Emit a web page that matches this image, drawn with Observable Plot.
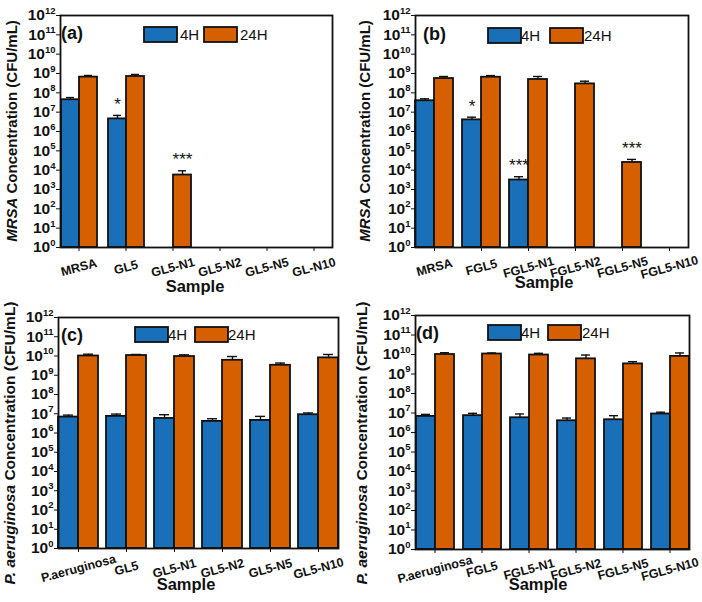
<!DOCTYPE html>
<html><head><meta charset="utf-8">
<script src="https://cdn.jsdelivr.net/npm/d3@7"></script>
<script src="https://cdn.jsdelivr.net/npm/@observablehq/plot@0.6"></script>
<style>
body{margin:0;background:#fff;}
#wrap{position:relative;width:702px;height:602px;background:#fff;}
.panel{position:absolute;}
</style></head><body><div id="wrap"></div>
<script>
// ---------- data ----------
const series = ["4H", "24H"];

const catsA = ["MRSA", "GL5", "GL5-N1", "GL5-N2", "GL5-N5", "GL-N10"];
const a4H = [4.4e7, 4.5e6, null, null, null, null];
const a4HUp = [5.7e7, 6.8e6, null, null, null, null];
const a24H = [6.5e8, 7.0e8, 5.6e3, null, null, null];
const a24HUp = [7.9e8, 8.9e8, 9.3e3, null, null, null];
const aStars4H = ["", "*", "", "", "", ""];
const aStars24H = ["", "", "***", "", "", ""];

const catsB = ["MRSA", "FGL5", "FGL5-N1", "FGL5-N2", "FGL5-N5", "FGL5-N10"];
const b4H = [3.9e7, 4.0e6, 3.1e3, null, null, null];
const b4HUp = [4.9e7, 5.5e6, 4.6e3, null, null, null];
const b24H = [5.5e8, 6.4e8, 4.9e8, 2.9e8, 2.5e4, null];
const b24HUp = [7.0e8, 7.8e8, 7.0e8, 4.0e8, 3.6e4, null];
const bStars4H = ["", "*", "***", "", "", ""];
const bStars24H = ["", "", "", "", "***", ""];

const catsC = ["P.aeruginosa", "GL5", "GL5-N1", "GL5-N2", "GL5-N5", "GL5-N10"];
const c4H = [6.7e6, 7.3e6, 5.7e6, 4.0e6, 4.5e6, 8.9e6];
const c4HUp = [8.5e6, 9.6e6, 8.9e6, 5.5e6, 7.3e6, 1.1e7];
const c24H = [1.0e10, 1.06e10, 9.4e9, 6.0e9, 3.3e9, 8.0e9];
const c24HUp = [1.24e10, 1.2e10, 1.15e10, 9.4e9, 4.3e9, 1.2e10];

const catsD = ["P.aeruginosa", "FGL5", "FGL5-N1", "FGL5-N2", "FGL5-N5", "FGL5-N10"];
const d4H = [6.7e6, 7.3e6, 5.7e6, 4.0e6, 4.5e6, 8.9e6];
const d4HUp = [8.5e6, 9.6e6, 8.9e6, 5.5e6, 7.3e6, 1.1e7];
const d24H = [1.0e10, 1.06e10, 9.4e9, 6.0e9, 3.3e9, 8.0e9];
const d24HUp = [1.24e10, 1.2e10, 1.15e10, 9.4e9, 4.3e9, 1.2e10];
const noStars = ["", "", "", "", "", ""];

const yTicks = d3.range(0, 13).map(i => Math.pow(10, i));

// ---------- style ----------
const FONT = "'Liberation Sans', Arial, sans-serif";
const blue = "#1a6fb9", orange = "#d65f00", ink = "#111";

function drawPanel(p) {
  const rows = [];
  p.cats.forEach((c, i) => {
    series.forEach((s, j) => {
      const v = p.vals[j][i];
      if (v == null) return;
      rows.push({cat: c, s, v, e: p.errs[j][i], star: p.stars[j][i]});
    });
  });
  const svg = Plot.plot({
    width: p.w, height: p.h,
    marginTop: p.m[0], marginRight: p.m[1], marginBottom: p.m[2], marginLeft: p.m[3],
    style: {fontFamily: FONT, background: "white", overflow: "visible", color: ink},
    fx: {domain: p.cats, paddingInner: p.pi, paddingOuter: p.po, label: null},
    x: {domain: series, padding: 0, axis: null},
    y: {type: "log", domain: [1, 1e12]},
    color: {domain: series, range: [blue, orange]},
    marks: [
      Plot.ruleX(rows, {fx: "cat", x: "s", y1: "v", y2: "e", stroke: ink, strokeWidth: 1.4}),
      Plot.tickY(rows, {fx: "cat", x: "s", y: "e", stroke: ink, strokeWidth: 1.4, insetLeft: 5, insetRight: 5}),
      Plot.barY(rows, {fx: "cat", x: "s", y1: 1, y2: "v", fill: "s", stroke: ink, strokeWidth: 1.8}),
      Plot.text(rows.filter(d => d.star), {fx: "cat", x: "s", y: "e", text: "star", dy: -11, fontSize: 17, fill: ink}),
      Plot.frame({facet: "super", stroke: ink, strokeWidth: 1.8}),
      Plot.axisY({ticks: yTicks, tickFormat: d => "10^" + Math.round(Math.log10(d)), tickSize: 4, tickPadding: 1, fontSize: 15.5, label: null}),
      Plot.axisFx({anchor: "bottom", tickSize: 4, tickRotate: -15, textAnchor: "middle", lineAnchor: "middle", tickPadding: 16, fontSize: 12.5, label: null})
    ]
  });
  const s = d3.select(svg);
  s.selectAll('g[aria-label="y-axis tick label"]').attr("font-weight", "bold");
  s.selectAll('g[aria-label="y-axis tick label"] text').each(function () {
    const parts = this.textContent.split("^");
    this.textContent = parts[0];
    d3.select(this).append("tspan").attr("dy", -6.5).attr("font-size", 9.5).text(parts[1]);
  });
  s.selectAll('g[aria-label="fx-axis tick label"]').attr("font-weight", "bold");

  // y-axis title with italic organism name
  const yt = s.append("text")
    .attr("transform", `translate(${p.yl[0]},${p.yl[1]}) rotate(-90)`)
    .attr("text-anchor", "middle").attr("font-weight", "bold")
    .attr("font-size", p.ylSize).attr("font-family", FONT).attr("fill", ink);
  yt.append("tspan").attr("font-style", "italic").text(p.organism);
  yt.append("tspan").text(" Concentration (CFU/mL)");

  // x-axis title
  s.append("text").attr("x", p.xl[0]).attr("y", p.xl[1])
    .attr("text-anchor", "middle").attr("font-weight", "bold").attr("font-size", 16.5)
    .attr("font-family", FONT).attr("fill", ink).text("Sample");

  // panel letter
  s.append("text").attr("x", p.tag[0]).attr("y", p.tag[1]).attr("text-anchor", "start")
    .attr("font-weight", "bold").attr("font-size", 18)
    .attr("font-family", FONT).attr("fill", ink).text(p.letter);

  // legend
  const lg = s.append("g").attr("font-family", FONT).attr("font-size", 15).attr("text-anchor", "start");
  const leg = [[series[0], blue, p.lg[0], p.lg[2]], [series[1], orange, p.lg[1], p.lg[3]]];
  leg.forEach(([name, col, bx, tx]) => {
    lg.append("rect").attr("x", bx).attr("y", p.lgY).attr("width", 33).attr("height", 15)
      .attr("fill", col).attr("stroke", ink).attr("stroke-width", 1.8);
    lg.append("text").attr("x", tx).attr("y", p.lgY + 13).attr("fill", ink).text(name);
  });

  const div = document.createElement("div");
  div.className = "panel";
  div.style.left = p.left + "px";
  div.style.top = p.top + "px";
  div.appendChild(svg);
  document.getElementById("wrap").appendChild(div);
}

drawPanel({
  left: 0, top: 0, w: 351, h: 300, m: [15, 16, 53, 56], pi: 0.22, po: 0.02,
  cats: catsA, vals: [a4H, a24H], errs: [a4HUp, a24HUp], stars: [aStars4H, aStars24H],
  organism: "MRSA", yl: [17, 131], ylSize: 15, xl: [195, 292], tag: [61, 39], letter: "(a)",
  lg: [144, 204, 180, 240], lgY: 27
});
drawPanel({
  left: 351, top: 0, w: 351, h: 300, m: [15, 8, 53, 57], pi: 0.2, po: 0.1,
  cats: catsB, vals: [b4H, b24H], errs: [b4HUp, b24HUp], stars: [bStars4H, bStars24H],
  organism: "MRSA", yl: [19, 131], ylSize: 15, xl: [193, 288], tag: [72, 40], letter: "(b)",
  lg: [137, 199, 170, 233], lgY: 28
});
drawPanel({
  left: 0, top: 300, w: 351, h: 302, m: [17, 11, 54, 55], pi: 0.17, po: 0.05,
  cats: catsC, vals: [c4H, c24H], errs: [c4HUp, c24HUp], stars: [noStars, noStars],
  organism: "P. aeruginosa", yl: [15, 143], ylSize: 15.5, xl: [186, 290], tag: [61, 41], letter: "(c)",
  lg: [135, 195, 168, 228], lgY: 27
});
drawPanel({
  left: 351, top: 300, w: 351, h: 302, m: [15, 8, 53, 59], pi: 0.17, po: 0.06,
  cats: catsD, vals: [d4H, d24H], errs: [d4HUp, d24HUp], stars: [noStars, noStars],
  organism: "P. aeruginosa", yl: [16, 143], ylSize: 15.5, xl: [187, 290], tag: [65, 39], letter: "(d)",
  lg: [137, 197, 170, 231], lgY: 25
});
</script></body></html>
